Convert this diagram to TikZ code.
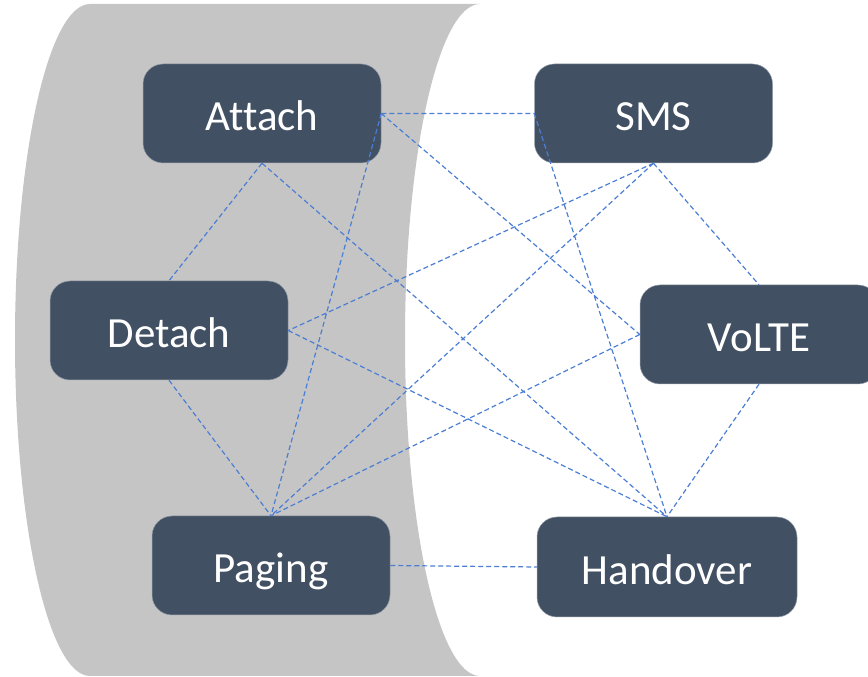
\documentclass[tikz,border=0pt]{standalone}
\usepackage{fontspec}
\setmainfont{Carlito}[Ligatures=NoCommon]
\definecolor{slate}{RGB}{65,80,99}
\definecolor{drum}{RGB}{197,197,197}
\definecolor{link}{RGB}{76,126,212}
\begin{document}
\begin{tikzpicture}[x=1pt,y=1pt,
	proc/.style={fill=slate,draw=slate!55!white,line width=.5pt,rounded corners=20pt,minimum width=238pt,minimum height=99pt,inner sep=0pt,text=white,text height=35pt,text depth=0pt,font=\fontsize{43}{50}\selectfont},
	lnk/.style={draw=link,dash pattern=on 5pt off 3pt,line width=1.2pt}]
	\useasboundingbox (0,0) rectangle (868,677);
	\fill[drum] (90,673) -- (480,673)
		arc[start angle=90,end angle=270,x radius=75,y radius=336]
		-- (90,1) arc[start angle=270,end angle=90,x radius=75,y radius=336] -- cycle;
	\node[proc] at (262,563.5)	(attach) {Attach};
	\node[proc] at (653.5,563.5)	(sms) {SMS};
	\node[proc] at (169,346.5)	(detach) {Detach};
	\node[proc] at (759,342.5)	(volte) {VoLTE};
	\node[proc] at (271,111.5)	(paging) {Paging};
	\node[proc,minimum width=260pt,minimum height=100pt] at (667,110) (handover) {Handover};
	\draw[lnk]	(attach.east) -- (sms.west)
		(attach.east) -- (volte.west)
		(attach.east) -- (paging.north)
		(attach.south) -- (detach.north)
		(attach.south) -- (handover.north)
		(sms.west) -- (handover.north)
		(sms.south) -- (detach.east)
		(sms.south) -- (paging.north)
		(sms.south) -- (volte.north)
		(detach.east) -- (handover.north)
		(detach.south) -- (paging.north)
		(volte.west) -- (paging.north)
		(volte.south) -- (handover.north)
		(paging.east) -- (handover.west);
\end{tikzpicture}
\end{document}
